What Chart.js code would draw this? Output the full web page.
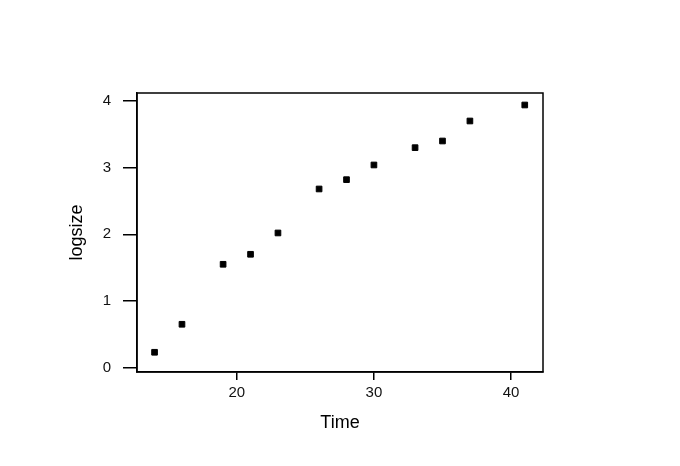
<!DOCTYPE html>
<html>
<head>
<meta charset="utf-8">
<script src="https://cdn.jsdelivr.net/npm/chart.js@4/dist/chart.umd.min.js"></script>
<style>
  html, body { margin: 0; padding: 0; background: #fff; }
  #wrap { width: 680px; height: 466px; }
</style>
</head>
<body>
<div id="wrap"><canvas id="plot" width="680" height="466"></canvas></div>
<script>
// data
const time = [14, 16, 19, 21, 23, 26, 28, 30, 33, 35, 37, 41];
const logsize = [0.23, 0.65, 1.55, 1.70, 2.02, 2.68, 2.82, 3.04, 3.30, 3.40, 3.70, 3.94];
const xTicks = [20, 30, 40];
const yTicks = [0, 1, 2, 3, 4];

// draws the box around the plot area, like R's box()
const boxPlugin = {
  id: "box",
  afterDraw(chart) {
    const { ctx, chartArea: a } = chart;
    ctx.save();
    ctx.strokeStyle = "#000";
    ctx.lineWidth = 1.5;
    ctx.strokeRect(a.left, a.top, a.right - a.left, a.bottom - a.top);
    ctx.restore();
  },
};

const tickFont = { family: "'Liberation Sans', Arial, sans-serif", size: 15 };
const titleFont = { family: "'Liberation Sans', Arial, sans-serif", size: 18 };

new Chart(document.getElementById("plot"), {
  type: "scatter",
  data: {
    datasets: [
      {
        data: time.map((t, i) => ({ x: t, y: logsize[i] })),
        backgroundColor: "#000",
        borderColor: "#000",
        pointStyle: "rect",
        pointRadius: 4,
        pointHoverRadius: 4,
      },
    ],
  },
  options: {
    responsive: false,
    animation: false,
    layout: { padding: { top: 93, right: 137, bottom: 0, left: 0 } },
    plugins: { legend: { display: false }, tooltip: { enabled: false } },
    scales: {
      x: {
        type: "linear",
        min: 12.72,
        max: 42.33,
        afterBuildTicks: (s) => { s.ticks = xTicks.map((v) => ({ value: v })); },
        afterFit: (s) => { s.height = 94; },
        grid: { drawOnChartArea: false, tickLength: 8, color: "#000", lineWidth: 1.5 },
        border: { display: true, color: "#000", width: 1.5 },
        ticks: { color: "#111", font: tickFont, padding: 4, maxRotation: 0 },
        title: { display: true, text: "Time", color: "#000", font: titleFont, padding: { top: 0, bottom: 32 } },
      },
      y: {
        type: "linear",
        min: -0.066,
        max: 4.12,
        afterBuildTicks: (s) => { s.ticks = yTicks.map((v) => ({ value: v })); },
        afterFit: (s) => { s.width = 137; },
        grid: { drawOnChartArea: false, tickLength: 14, color: "#000", lineWidth: 1.5 },
        border: { display: true, color: "#000", width: 1.5 },
        ticks: { color: "#111", font: tickFont, padding: 12 },
        title: { display: true, text: "logsize", color: "#000", font: titleFont, padding: { top: 66.7, bottom: 0 } },
      },
    },
  },
  plugins: [boxPlugin],
});
</script>
</body>
</html>
